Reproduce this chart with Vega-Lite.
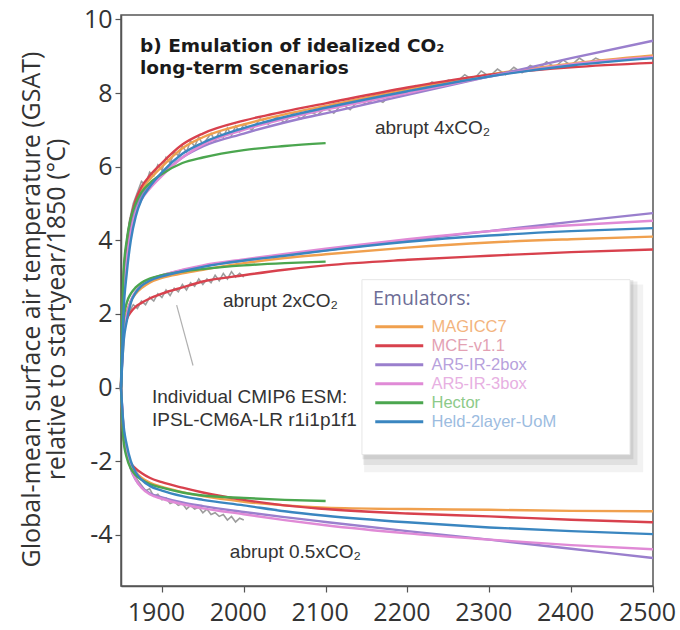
{
  "$schema": "https://vega.github.io/schema/vega-lite/v6.json",
  "width": 532,
  "height": 571,
  "autosize": {"type": "none"},
  "padding": {"left": 121, "top": 15, "right": 27, "bottom": 44},
  "background": "white",
  "config": {
    "view": {"stroke": "#555", "strokeWidth": 1.5},
    "axis": {"grid": false, "labelFont": "Open Sans", "labelFontSize": 25, "labelColor": "#333", "tickColor": "#555", "domainColor": "#555", "domainWidth": 1.5, "tickSize": 6, "tickWidth": 1.2, "labelOverlap": false, "labelFlush": false}
  },
  "datasets": {
    "emu": [
      {"e":"MAGICC7","s":"4x","t":1850,"v":0},{"e":"MAGICC7","s":"4x","t":1853,"v":2.7},{"e":"MAGICC7","s":"4x","t":1857,"v":3.7},{"e":"MAGICC7","s":"4x","t":1862,"v":4.45},{"e":"MAGICC7","s":"4x","t":1868,"v":4.95},{"e":"MAGICC7","s":"4x","t":1875,"v":5.35},{"e":"MAGICC7","s":"4x","t":1885,"v":5.65},{"e":"MAGICC7","s":"4x","t":1900,"v":6.0},{"e":"MAGICC7","s":"4x","t":1925,"v":6.5},{"e":"MAGICC7","s":"4x","t":1950,"v":6.8},{"e":"MAGICC7","s":"4x","t":2000,"v":7.15},{"e":"MAGICC7","s":"4x","t":2050,"v":7.42},{"e":"MAGICC7","s":"4x","t":2100,"v":7.65},{"e":"MAGICC7","s":"4x","t":2200,"v":8.1},{"e":"MAGICC7","s":"4x","t":2300,"v":8.5},{"e":"MAGICC7","s":"4x","t":2400,"v":8.8},{"e":"MAGICC7","s":"4x","t":2500,"v":9.02},
      {"e":"MAGICC7","s":"2x","t":1850,"v":0},{"e":"MAGICC7","s":"2x","t":1853,"v":1.6},{"e":"MAGICC7","s":"2x","t":1857,"v":2.05},{"e":"MAGICC7","s":"2x","t":1862,"v":2.35},{"e":"MAGICC7","s":"2x","t":1868,"v":2.55},{"e":"MAGICC7","s":"2x","t":1875,"v":2.7},{"e":"MAGICC7","s":"2x","t":1885,"v":2.85},{"e":"MAGICC7","s":"2x","t":1900,"v":2.98},{"e":"MAGICC7","s":"2x","t":1925,"v":3.1},{"e":"MAGICC7","s":"2x","t":1950,"v":3.2},{"e":"MAGICC7","s":"2x","t":2000,"v":3.38},{"e":"MAGICC7","s":"2x","t":2050,"v":3.52},{"e":"MAGICC7","s":"2x","t":2100,"v":3.62},{"e":"MAGICC7","s":"2x","t":2200,"v":3.8},{"e":"MAGICC7","s":"2x","t":2300,"v":3.94},{"e":"MAGICC7","s":"2x","t":2400,"v":4.03},{"e":"MAGICC7","s":"2x","t":2500,"v":4.1},
      {"e":"MAGICC7","s":"05x","t":1850,"v":0},{"e":"MAGICC7","s":"05x","t":1853,"v":-1.3},{"e":"MAGICC7","s":"05x","t":1857,"v":-1.8},{"e":"MAGICC7","s":"05x","t":1862,"v":-2.1},{"e":"MAGICC7","s":"05x","t":1868,"v":-2.3},{"e":"MAGICC7","s":"05x","t":1875,"v":-2.45},{"e":"MAGICC7","s":"05x","t":1885,"v":-2.58},{"e":"MAGICC7","s":"05x","t":1900,"v":-2.7},{"e":"MAGICC7","s":"05x","t":1925,"v":-2.84},{"e":"MAGICC7","s":"05x","t":1950,"v":-2.95},{"e":"MAGICC7","s":"05x","t":2000,"v":-3.1},{"e":"MAGICC7","s":"05x","t":2050,"v":-3.2},{"e":"MAGICC7","s":"05x","t":2100,"v":-3.26},{"e":"MAGICC7","s":"05x","t":2200,"v":-3.3},{"e":"MAGICC7","s":"05x","t":2300,"v":-3.32},{"e":"MAGICC7","s":"05x","t":2400,"v":-3.35},{"e":"MAGICC7","s":"05x","t":2500,"v":-3.36},

      {"e":"MCE-v1.1","s":"4x","t":1850,"v":0},{"e":"MCE-v1.1","s":"4x","t":1853,"v":2.9},{"e":"MCE-v1.1","s":"4x","t":1857,"v":3.9},{"e":"MCE-v1.1","s":"4x","t":1862,"v":4.6},{"e":"MCE-v1.1","s":"4x","t":1868,"v":5.1},{"e":"MCE-v1.1","s":"4x","t":1875,"v":5.45},{"e":"MCE-v1.1","s":"4x","t":1885,"v":5.75},{"e":"MCE-v1.1","s":"4x","t":1900,"v":6.1},{"e":"MCE-v1.1","s":"4x","t":1925,"v":6.6},{"e":"MCE-v1.1","s":"4x","t":1950,"v":6.9},{"e":"MCE-v1.1","s":"4x","t":2000,"v":7.25},{"e":"MCE-v1.1","s":"4x","t":2050,"v":7.5},{"e":"MCE-v1.1","s":"4x","t":2100,"v":7.72},{"e":"MCE-v1.1","s":"4x","t":2200,"v":8.15},{"e":"MCE-v1.1","s":"4x","t":2300,"v":8.5},{"e":"MCE-v1.1","s":"4x","t":2400,"v":8.7},{"e":"MCE-v1.1","s":"4x","t":2500,"v":8.82},
      {"e":"MCE-v1.1","s":"2x","t":1850,"v":0},{"e":"MCE-v1.1","s":"2x","t":1853,"v":1.5},{"e":"MCE-v1.1","s":"2x","t":1857,"v":1.85},{"e":"MCE-v1.1","s":"2x","t":1862,"v":2.05},{"e":"MCE-v1.1","s":"2x","t":1868,"v":2.2},{"e":"MCE-v1.1","s":"2x","t":1875,"v":2.3},{"e":"MCE-v1.1","s":"2x","t":1885,"v":2.42},{"e":"MCE-v1.1","s":"2x","t":1900,"v":2.55},{"e":"MCE-v1.1","s":"2x","t":1925,"v":2.72},{"e":"MCE-v1.1","s":"2x","t":1950,"v":2.88},{"e":"MCE-v1.1","s":"2x","t":2000,"v":3.05},{"e":"MCE-v1.1","s":"2x","t":2050,"v":3.2},{"e":"MCE-v1.1","s":"2x","t":2100,"v":3.32},{"e":"MCE-v1.1","s":"2x","t":2200,"v":3.47},{"e":"MCE-v1.1","s":"2x","t":2300,"v":3.58},{"e":"MCE-v1.1","s":"2x","t":2400,"v":3.68},{"e":"MCE-v1.1","s":"2x","t":2500,"v":3.75},
      {"e":"MCE-v1.1","s":"05x","t":1850,"v":0},{"e":"MCE-v1.1","s":"05x","t":1853,"v":-1.3},{"e":"MCE-v1.1","s":"05x","t":1857,"v":-1.8},{"e":"MCE-v1.1","s":"05x","t":1862,"v":-2.05},{"e":"MCE-v1.1","s":"05x","t":1868,"v":-2.2},{"e":"MCE-v1.1","s":"05x","t":1875,"v":-2.32},{"e":"MCE-v1.1","s":"05x","t":1885,"v":-2.45},{"e":"MCE-v1.1","s":"05x","t":1900,"v":-2.57},{"e":"MCE-v1.1","s":"05x","t":1925,"v":-2.72},{"e":"MCE-v1.1","s":"05x","t":1950,"v":-2.85},{"e":"MCE-v1.1","s":"05x","t":2000,"v":-3.05},{"e":"MCE-v1.1","s":"05x","t":2050,"v":-3.2},{"e":"MCE-v1.1","s":"05x","t":2100,"v":-3.3},{"e":"MCE-v1.1","s":"05x","t":2200,"v":-3.42},{"e":"MCE-v1.1","s":"05x","t":2300,"v":-3.5},{"e":"MCE-v1.1","s":"05x","t":2400,"v":-3.59},{"e":"MCE-v1.1","s":"05x","t":2500,"v":-3.66},

      {"e":"AR5-IR-2box","s":"4x","t":1850,"v":0},{"e":"AR5-IR-2box","s":"4x","t":1853,"v":2.4},{"e":"AR5-IR-2box","s":"4x","t":1857,"v":3.5},{"e":"AR5-IR-2box","s":"4x","t":1862,"v":4.3},{"e":"AR5-IR-2box","s":"4x","t":1868,"v":4.85},{"e":"AR5-IR-2box","s":"4x","t":1875,"v":5.2},{"e":"AR5-IR-2box","s":"4x","t":1885,"v":5.5},{"e":"AR5-IR-2box","s":"4x","t":1900,"v":5.8},{"e":"AR5-IR-2box","s":"4x","t":1925,"v":6.25},{"e":"AR5-IR-2box","s":"4x","t":1950,"v":6.55},{"e":"AR5-IR-2box","s":"4x","t":2000,"v":6.9},{"e":"AR5-IR-2box","s":"4x","t":2050,"v":7.2},{"e":"AR5-IR-2box","s":"4x","t":2100,"v":7.45},{"e":"AR5-IR-2box","s":"4x","t":2200,"v":7.95},{"e":"AR5-IR-2box","s":"4x","t":2300,"v":8.45},{"e":"AR5-IR-2box","s":"4x","t":2400,"v":8.95},{"e":"AR5-IR-2box","s":"4x","t":2500,"v":9.42},
      {"e":"AR5-IR-2box","s":"2x","t":1850,"v":0},{"e":"AR5-IR-2box","s":"2x","t":1853,"v":1.4},{"e":"AR5-IR-2box","s":"2x","t":1857,"v":1.95},{"e":"AR5-IR-2box","s":"2x","t":1862,"v":2.35},{"e":"AR5-IR-2box","s":"2x","t":1868,"v":2.6},{"e":"AR5-IR-2box","s":"2x","t":1875,"v":2.78},{"e":"AR5-IR-2box","s":"2x","t":1885,"v":2.93},{"e":"AR5-IR-2box","s":"2x","t":1900,"v":3.05},{"e":"AR5-IR-2box","s":"2x","t":1925,"v":3.18},{"e":"AR5-IR-2box","s":"2x","t":1950,"v":3.3},{"e":"AR5-IR-2box","s":"2x","t":2000,"v":3.45},{"e":"AR5-IR-2box","s":"2x","t":2050,"v":3.6},{"e":"AR5-IR-2box","s":"2x","t":2100,"v":3.73},{"e":"AR5-IR-2box","s":"2x","t":2200,"v":4.0},{"e":"AR5-IR-2box","s":"2x","t":2300,"v":4.25},{"e":"AR5-IR-2box","s":"2x","t":2400,"v":4.5},{"e":"AR5-IR-2box","s":"2x","t":2500,"v":4.74},
      {"e":"AR5-IR-2box","s":"05x","t":1850,"v":0},{"e":"AR5-IR-2box","s":"05x","t":1853,"v":-1.1},{"e":"AR5-IR-2box","s":"05x","t":1857,"v":-1.7},{"e":"AR5-IR-2box","s":"05x","t":1862,"v":-2.2},{"e":"AR5-IR-2box","s":"05x","t":1868,"v":-2.5},{"e":"AR5-IR-2box","s":"05x","t":1875,"v":-2.7},{"e":"AR5-IR-2box","s":"05x","t":1885,"v":-2.87},{"e":"AR5-IR-2box","s":"05x","t":1900,"v":-2.98},{"e":"AR5-IR-2box","s":"05x","t":1925,"v":-3.12},{"e":"AR5-IR-2box","s":"05x","t":1950,"v":-3.22},{"e":"AR5-IR-2box","s":"05x","t":2000,"v":-3.38},{"e":"AR5-IR-2box","s":"05x","t":2050,"v":-3.52},{"e":"AR5-IR-2box","s":"05x","t":2100,"v":-3.65},{"e":"AR5-IR-2box","s":"05x","t":2200,"v":-3.9},{"e":"AR5-IR-2box","s":"05x","t":2300,"v":-4.13},{"e":"AR5-IR-2box","s":"05x","t":2400,"v":-4.38},{"e":"AR5-IR-2box","s":"05x","t":2500,"v":-4.63},

      {"e":"AR5-IR-3box","s":"4x","t":1850,"v":0},{"e":"AR5-IR-3box","s":"4x","t":1853,"v":2.3},{"e":"AR5-IR-3box","s":"4x","t":1857,"v":3.4},{"e":"AR5-IR-3box","s":"4x","t":1862,"v":4.2},{"e":"AR5-IR-3box","s":"4x","t":1868,"v":4.75},{"e":"AR5-IR-3box","s":"4x","t":1875,"v":5.1},{"e":"AR5-IR-3box","s":"4x","t":1885,"v":5.4},{"e":"AR5-IR-3box","s":"4x","t":1900,"v":5.75},{"e":"AR5-IR-3box","s":"4x","t":1925,"v":6.25},{"e":"AR5-IR-3box","s":"4x","t":1950,"v":6.6},{"e":"AR5-IR-3box","s":"4x","t":2000,"v":7.0},{"e":"AR5-IR-3box","s":"4x","t":2050,"v":7.3},{"e":"AR5-IR-3box","s":"4x","t":2100,"v":7.55},{"e":"AR5-IR-3box","s":"4x","t":2200,"v":8.0},{"e":"AR5-IR-3box","s":"4x","t":2300,"v":8.45},{"e":"AR5-IR-3box","s":"4x","t":2400,"v":8.78},{"e":"AR5-IR-3box","s":"4x","t":2500,"v":8.98},
      {"e":"AR5-IR-3box","s":"2x","t":1850,"v":0},{"e":"AR5-IR-3box","s":"2x","t":1853,"v":1.4},{"e":"AR5-IR-3box","s":"2x","t":1857,"v":1.95},{"e":"AR5-IR-3box","s":"2x","t":1862,"v":2.35},{"e":"AR5-IR-3box","s":"2x","t":1868,"v":2.6},{"e":"AR5-IR-3box","s":"2x","t":1875,"v":2.78},{"e":"AR5-IR-3box","s":"2x","t":1885,"v":2.93},{"e":"AR5-IR-3box","s":"2x","t":1900,"v":3.05},{"e":"AR5-IR-3box","s":"2x","t":1925,"v":3.2},{"e":"AR5-IR-3box","s":"2x","t":1950,"v":3.32},{"e":"AR5-IR-3box","s":"2x","t":2000,"v":3.48},{"e":"AR5-IR-3box","s":"2x","t":2050,"v":3.63},{"e":"AR5-IR-3box","s":"2x","t":2100,"v":3.77},{"e":"AR5-IR-3box","s":"2x","t":2200,"v":4.03},{"e":"AR5-IR-3box","s":"2x","t":2300,"v":4.25},{"e":"AR5-IR-3box","s":"2x","t":2400,"v":4.41},{"e":"AR5-IR-3box","s":"2x","t":2500,"v":4.53},
      {"e":"AR5-IR-3box","s":"05x","t":1850,"v":0},{"e":"AR5-IR-3box","s":"05x","t":1853,"v":-1.1},{"e":"AR5-IR-3box","s":"05x","t":1857,"v":-1.7},{"e":"AR5-IR-3box","s":"05x","t":1862,"v":-2.2},{"e":"AR5-IR-3box","s":"05x","t":1868,"v":-2.5},{"e":"AR5-IR-3box","s":"05x","t":1875,"v":-2.72},{"e":"AR5-IR-3box","s":"05x","t":1885,"v":-2.9},{"e":"AR5-IR-3box","s":"05x","t":1900,"v":-3.02},{"e":"AR5-IR-3box","s":"05x","t":1925,"v":-3.17},{"e":"AR5-IR-3box","s":"05x","t":1950,"v":-3.28},{"e":"AR5-IR-3box","s":"05x","t":2000,"v":-3.44},{"e":"AR5-IR-3box","s":"05x","t":2050,"v":-3.6},{"e":"AR5-IR-3box","s":"05x","t":2100,"v":-3.74},{"e":"AR5-IR-3box","s":"05x","t":2200,"v":-3.96},{"e":"AR5-IR-3box","s":"05x","t":2300,"v":-4.13},{"e":"AR5-IR-3box","s":"05x","t":2400,"v":-4.28},{"e":"AR5-IR-3box","s":"05x","t":2500,"v":-4.39},

      {"e":"Hector","s":"4x","t":1850,"v":0},{"e":"Hector","s":"4x","t":1853,"v":3.1},{"e":"Hector","s":"4x","t":1857,"v":4.0},{"e":"Hector","s":"4x","t":1862,"v":4.6},{"e":"Hector","s":"4x","t":1868,"v":5.0},{"e":"Hector","s":"4x","t":1875,"v":5.3},{"e":"Hector","s":"4x","t":1885,"v":5.55},{"e":"Hector","s":"4x","t":1900,"v":5.8},{"e":"Hector","s":"4x","t":1925,"v":6.1},{"e":"Hector","s":"4x","t":1950,"v":6.25},{"e":"Hector","s":"4x","t":2000,"v":6.45},{"e":"Hector","s":"4x","t":2050,"v":6.56},{"e":"Hector","s":"4x","t":2100,"v":6.64},
      {"e":"Hector","s":"2x","t":1850,"v":0},{"e":"Hector","s":"2x","t":1853,"v":1.8},{"e":"Hector","s":"2x","t":1857,"v":2.3},{"e":"Hector","s":"2x","t":1862,"v":2.55},{"e":"Hector","s":"2x","t":1868,"v":2.72},{"e":"Hector","s":"2x","t":1875,"v":2.85},{"e":"Hector","s":"2x","t":1885,"v":2.96},{"e":"Hector","s":"2x","t":1900,"v":3.05},{"e":"Hector","s":"2x","t":1925,"v":3.15},{"e":"Hector","s":"2x","t":1950,"v":3.22},{"e":"Hector","s":"2x","t":2000,"v":3.32},{"e":"Hector","s":"2x","t":2050,"v":3.38},{"e":"Hector","s":"2x","t":2100,"v":3.42},
      {"e":"Hector","s":"05x","t":1850,"v":0},{"e":"Hector","s":"05x","t":1853,"v":-1.4},{"e":"Hector","s":"05x","t":1857,"v":-1.9},{"e":"Hector","s":"05x","t":1862,"v":-2.2},{"e":"Hector","s":"05x","t":1868,"v":-2.38},{"e":"Hector","s":"05x","t":1875,"v":-2.5},{"e":"Hector","s":"05x","t":1885,"v":-2.62},{"e":"Hector","s":"05x","t":1900,"v":-2.72},{"e":"Hector","s":"05x","t":1925,"v":-2.85},{"e":"Hector","s":"05x","t":1950,"v":-2.93},{"e":"Hector","s":"05x","t":2000,"v":-3.0},{"e":"Hector","s":"05x","t":2050,"v":-3.05},{"e":"Hector","s":"05x","t":2100,"v":-3.08},

      {"e":"Held-2layer-UoM","s":"4x","t":1850,"v":0},{"e":"Held-2layer-UoM","s":"4x","t":1853,"v":2.0},{"e":"Held-2layer-UoM","s":"4x","t":1857,"v":3.1},{"e":"Held-2layer-UoM","s":"4x","t":1862,"v":4.0},{"e":"Held-2layer-UoM","s":"4x","t":1868,"v":4.65},{"e":"Held-2layer-UoM","s":"4x","t":1875,"v":5.1},{"e":"Held-2layer-UoM","s":"4x","t":1885,"v":5.45},{"e":"Held-2layer-UoM","s":"4x","t":1900,"v":5.85},{"e":"Held-2layer-UoM","s":"4x","t":1925,"v":6.35},{"e":"Held-2layer-UoM","s":"4x","t":1950,"v":6.65},{"e":"Held-2layer-UoM","s":"4x","t":2000,"v":7.05},{"e":"Held-2layer-UoM","s":"4x","t":2050,"v":7.35},{"e":"Held-2layer-UoM","s":"4x","t":2100,"v":7.6},{"e":"Held-2layer-UoM","s":"4x","t":2200,"v":8.05},{"e":"Held-2layer-UoM","s":"4x","t":2300,"v":8.45},{"e":"Held-2layer-UoM","s":"4x","t":2400,"v":8.75},{"e":"Held-2layer-UoM","s":"4x","t":2500,"v":8.95},
      {"e":"Held-2layer-UoM","s":"2x","t":1850,"v":0},{"e":"Held-2layer-UoM","s":"2x","t":1853,"v":1.2},{"e":"Held-2layer-UoM","s":"2x","t":1857,"v":1.8},{"e":"Held-2layer-UoM","s":"2x","t":1862,"v":2.3},{"e":"Held-2layer-UoM","s":"2x","t":1868,"v":2.58},{"e":"Held-2layer-UoM","s":"2x","t":1875,"v":2.76},{"e":"Held-2layer-UoM","s":"2x","t":1885,"v":2.9},{"e":"Held-2layer-UoM","s":"2x","t":1900,"v":3.02},{"e":"Held-2layer-UoM","s":"2x","t":1925,"v":3.16},{"e":"Held-2layer-UoM","s":"2x","t":1950,"v":3.28},{"e":"Held-2layer-UoM","s":"2x","t":2000,"v":3.45},{"e":"Held-2layer-UoM","s":"2x","t":2050,"v":3.58},{"e":"Held-2layer-UoM","s":"2x","t":2100,"v":3.72},{"e":"Held-2layer-UoM","s":"2x","t":2200,"v":3.96},{"e":"Held-2layer-UoM","s":"2x","t":2300,"v":4.13},{"e":"Held-2layer-UoM","s":"2x","t":2400,"v":4.25},{"e":"Held-2layer-UoM","s":"2x","t":2500,"v":4.33},
      {"e":"Held-2layer-UoM","s":"05x","t":1850,"v":0},{"e":"Held-2layer-UoM","s":"05x","t":1853,"v":-1.0},{"e":"Held-2layer-UoM","s":"05x","t":1857,"v":-1.55},{"e":"Held-2layer-UoM","s":"05x","t":1862,"v":-2.0},{"e":"Held-2layer-UoM","s":"05x","t":1868,"v":-2.3},{"e":"Held-2layer-UoM","s":"05x","t":1875,"v":-2.5},{"e":"Held-2layer-UoM","s":"05x","t":1885,"v":-2.67},{"e":"Held-2layer-UoM","s":"05x","t":1900,"v":-2.8},{"e":"Held-2layer-UoM","s":"05x","t":1925,"v":-2.95},{"e":"Held-2layer-UoM","s":"05x","t":1950,"v":-3.05},{"e":"Held-2layer-UoM","s":"05x","t":2000,"v":-3.2},{"e":"Held-2layer-UoM","s":"05x","t":2050,"v":-3.36},{"e":"Held-2layer-UoM","s":"05x","t":2100,"v":-3.48},{"e":"Held-2layer-UoM","s":"05x","t":2200,"v":-3.66},{"e":"Held-2layer-UoM","s":"05x","t":2300,"v":-3.8},{"e":"Held-2layer-UoM","s":"05x","t":2400,"v":-3.9},{"e":"Held-2layer-UoM","s":"05x","t":2500,"v":-3.98}
    ],
    "esm": [
      {"s":"4x","t":1850,"v":0},{"s":"4x","t":1855,"v":3.6},{"s":"4x","t":1860,"v":4.5},{"s":"4x","t":1865,"v":5.0},{"s":"4x","t":1870,"v":5.3},{"s":"4x","t":1875,"v":5.6},{"s":"4x","t":1880,"v":5.5},{"s":"4x","t":1885,"v":5.85},{"s":"4x","t":1890,"v":5.75},{"s":"4x","t":1895,"v":6.05},{"s":"4x","t":1900,"v":5.9},{"s":"4x","t":1905,"v":6.25},{"s":"4x","t":1910,"v":6.1},{"s":"4x","t":1915,"v":6.4},{"s":"4x","t":1920,"v":6.3},{"s":"4x","t":1925,"v":6.55},{"s":"4x","t":1930,"v":6.4},{"s":"4x","t":1935,"v":6.7},{"s":"4x","t":1940,"v":6.55},{"s":"4x","t":1945,"v":6.8},{"s":"4x","t":1950,"v":6.6},{"s":"4x","t":1955,"v":6.75},{"s":"4x","t":1960,"v":6.9},{"s":"4x","t":1965,"v":6.7},{"s":"4x","t":1970,"v":6.95},{"s":"4x","t":1975,"v":6.8},{"s":"4x","t":1980,"v":7.05},{"s":"4x","t":1985,"v":6.85},{"s":"4x","t":1990,"v":7.1},{"s":"4x","t":1995,"v":6.95},{"s":"4x","t":2000,"v":7.15},{"s":"4x","t":2010,"v":7.0},{"s":"4x","t":2020,"v":7.3},{"s":"4x","t":2030,"v":7.15},{"s":"4x","t":2040,"v":7.35},{"s":"4x","t":2050,"v":7.2},{"s":"4x","t":2060,"v":7.45},{"s":"4x","t":2070,"v":7.3},{"s":"4x","t":2080,"v":7.5},{"s":"4x","t":2090,"v":7.4},{"s":"4x","t":2100,"v":7.6},{"s":"4x","t":2110,"v":7.45},{"s":"4x","t":2120,"v":7.7},{"s":"4x","t":2130,"v":7.55},{"s":"4x","t":2140,"v":7.8},{"s":"4x","t":2150,"v":7.7},{"s":"4x","t":2160,"v":7.85},{"s":"4x","t":2170,"v":7.75},{"s":"4x","t":2180,"v":7.95},{"s":"4x","t":2190,"v":7.9},{"s":"4x","t":2200,"v":8.05},{"s":"4x","t":2210,"v":8.2},{"s":"4x","t":2220,"v":8.1},{"s":"4x","t":2230,"v":8.3},{"s":"4x","t":2240,"v":8.2},{"s":"4x","t":2250,"v":8.35},{"s":"4x","t":2260,"v":8.3},{"s":"4x","t":2270,"v":8.5},{"s":"4x","t":2280,"v":8.35},{"s":"4x","t":2290,"v":8.6},{"s":"4x","t":2300,"v":8.45},{"s":"4x","t":2310,"v":8.65},{"s":"4x","t":2320,"v":8.5},{"s":"4x","t":2330,"v":8.7},{"s":"4x","t":2340,"v":8.55},{"s":"4x","t":2350,"v":8.75},{"s":"4x","t":2360,"v":8.65},{"s":"4x","t":2370,"v":8.85},{"s":"4x","t":2380,"v":8.7},{"s":"4x","t":2390,"v":8.9},{"s":"4x","t":2400,"v":8.75},{"s":"4x","t":2410,"v":8.95},{"s":"4x","t":2420,"v":8.8},{"s":"4x","t":2430,"v":8.95},{"s":"4x","t":2440,"v":8.85},{"s":"4x","t":2450,"v":8.9},
      {"s":"2x","t":1850,"v":0},{"s":"2x","t":1855,"v":1.7},{"s":"2x","t":1860,"v":2.05},{"s":"2x","t":1865,"v":2.25},{"s":"2x","t":1870,"v":2.15},{"s":"2x","t":1875,"v":2.35},{"s":"2x","t":1880,"v":2.25},{"s":"2x","t":1885,"v":2.45},{"s":"2x","t":1890,"v":2.35},{"s":"2x","t":1895,"v":2.55},{"s":"2x","t":1900,"v":2.45},{"s":"2x","t":1905,"v":2.65},{"s":"2x","t":1910,"v":2.5},{"s":"2x","t":1915,"v":2.7},{"s":"2x","t":1920,"v":2.6},{"s":"2x","t":1925,"v":2.8},{"s":"2x","t":1930,"v":2.65},{"s":"2x","t":1935,"v":2.85},{"s":"2x","t":1940,"v":2.75},{"s":"2x","t":1945,"v":2.95},{"s":"2x","t":1950,"v":2.8},{"s":"2x","t":1955,"v":2.95},{"s":"2x","t":1960,"v":2.85},{"s":"2x","t":1965,"v":3.05},{"s":"2x","t":1970,"v":2.9},{"s":"2x","t":1975,"v":3.1},{"s":"2x","t":1980,"v":2.95},{"s":"2x","t":1985,"v":3.15},{"s":"2x","t":1990,"v":3.0},{"s":"2x","t":1995,"v":3.1},{"s":"2x","t":2000,"v":3.0},
      {"s":"05x","t":1850,"v":0},{"s":"05x","t":1855,"v":-1.5},{"s":"05x","t":1860,"v":-2.0},{"s":"05x","t":1865,"v":-2.3},{"s":"05x","t":1870,"v":-2.5},{"s":"05x","t":1875,"v":-2.65},{"s":"05x","t":1880,"v":-2.8},{"s":"05x","t":1885,"v":-2.75},{"s":"05x","t":1890,"v":-2.95},{"s":"05x","t":1895,"v":-2.9},{"s":"05x","t":1900,"v":-3.05},{"s":"05x","t":1905,"v":-3.0},{"s":"05x","t":1910,"v":-3.15},{"s":"05x","t":1915,"v":-3.1},{"s":"05x","t":1920,"v":-3.2},{"s":"05x","t":1925,"v":-3.15},{"s":"05x","t":1930,"v":-3.3},{"s":"05x","t":1935,"v":-3.2},{"s":"05x","t":1940,"v":-3.3},{"s":"05x","t":1945,"v":-3.25},{"s":"05x","t":1950,"v":-3.4},{"s":"05x","t":1955,"v":-3.3},{"s":"05x","t":1960,"v":-3.45},{"s":"05x","t":1965,"v":-3.4},{"s":"05x","t":1970,"v":-3.5},{"s":"05x","t":1975,"v":-3.45},{"s":"05x","t":1980,"v":-3.6},{"s":"05x","t":1985,"v":-3.5},{"s":"05x","t":1990,"v":-3.65},{"s":"05x","t":1995,"v":-3.55},{"s":"05x","t":2000,"v":-3.6}
    ],
    "titles": [
      {"label":"b) Emulation of idealized CO₂","t":1873.2,"v":9.28},
      {"label":"long-term scenarios","t":1873.2,"v":8.68}
    ],
    "notes": [
      {"label":"abrupt 4xCO₂","t":2160.3,"v":7.05},
      {"label":"abrupt 2xCO₂","t":1974.5,"v":2.35},
      {"label":"abrupt 0.5xCO₂","t":1983,"v":-4.47},
      {"label":"Individual CMIP6 ESM:","t":1887.9,"v":-0.26},
      {"label":"IPSL-CM6A-LR r1i1p1f1","t":1887.9,"v":-0.88}
    ]
  },
  "encoding": {
    "x": {"type": "quantitative", "scale": {"domain": [1850, 2500], "nice": false, "zero": false}},
    "y": {"type": "quantitative", "scale": {"domain": [-5.39, 10.12], "nice": false, "zero": false}}
  },
  "layer": [
    {
      "data": {"values": [{}]},
      "mark": {"type": "rect", "fill": "#000", "opacity": 0.05},
      "encoding": {
        "x": {"datum": 2147}, "x2": {"datum": 2488},
        "y": {"datum": 2.8}, "y2": {"datum": -2.3}
      }
    },
    {
      "data": {"values": [{}]},
      "mark": {"type": "rect", "fill": "#000", "opacity": 0.07},
      "encoding": {
        "x": {"datum": 2146}, "x2": {"datum": 2481},
        "y": {"datum": 2.88}, "y2": {"datum": -2.1}
      }
    },
    {
      "data": {"values": [{}]},
      "mark": {"type": "rect", "fill": "#000", "opacity": 0.08},
      "encoding": {
        "x": {"datum": 2145}, "x2": {"datum": 2476},
        "y": {"datum": 2.92}, "y2": {"datum": -1.95}
      }
    },
    {
      "data": {"values": [{}]},
      "mark": {"type": "rect", "fill": "white", "stroke": "#e6e6e6", "strokeWidth": 1},
      "encoding": {
        "x": {"datum": 2144.4}, "x2": {"datum": 2471.9},
        "y": {"datum": 2.93}, "y2": {"datum": -1.82}
      }
    },
    {
      "data": {"name": "esm"},
      "mark": {"type": "line", "stroke": "#9d9d9d", "strokeWidth": 1.6},
      "encoding": {
        "x": {"field": "t", "type": "quantitative", "axis": {"title": null, "values": [1900, 2000, 2100, 2200, 2300, 2400, 2500], "format": "d", "labelPadding": 8, "labelOffset": -6}},
        "y": {"field": "v", "type": "quantitative", "axis": {
          "title": ["Global-mean surface air temperature (GSAT)", "relative to startyear/1850 (°C)"],
          "titleFont": "Open Sans", "titleFontSize": 25, "titleFontWeight": "normal", "titleColor": "#333", "titleLineHeight": 25,
          "titleY": 294, "titlePadding": 14,
          "values": [-4, -2, 0, 2, 4, 6, 8, 10], "labelExpr": "'' + datum.value", "labelPadding": 3}},
        "detail": {"field": "s"}
      }
    },
    {
      "data": {"name": "emu"},
      "mark": {"type": "line", "strokeWidth": 2.4, "interpolate": "monotone"},
      "encoding": {
        "x": {"field": "t", "type": "quantitative"},
        "y": {"field": "v", "type": "quantitative"},
        "detail": {"field": "s"},
        "color": {
          "field": "e", "type": "nominal",
          "scale": {
            "domain": ["MAGICC7", "MCE-v1.1", "AR5-IR-2box", "AR5-IR-3box", "Hector", "Held-2layer-UoM"],
            "range": ["#f0a04e", "#d8414d", "#9a7fcd", "#e08ad6", "#4ba64f", "#3a86c0"]
          },
          "legend": {
            "orient": "none", "legendX": 252, "legendY": 275,
            "title": "Emulators:", "titleFont": "Open Sans", "titleFontSize": 19.5, "titleFontWeight": "normal", "titleColor": "#6d6d96", "titlePadding": 9,
            "labelFont": "Liberation Sans", "labelFontSize": 16.5, "labelOffset": 42,
            "symbolType": "M-1,0H7", "symbolSize": 144, "symbolStrokeWidth": 3,
            "rowPadding": 2, "padding": 0,
            "encode": {"labels": {"update": {"fill": {"signal": "datum.value === 'MAGICC7' ? '#f3b47e' : datum.value === 'MCE-v1.1' ? '#e3a1b3' : datum.value === 'AR5-IR-2box' ? '#b7a1dc' : datum.value === 'AR5-IR-3box' ? '#e7b0e2' : datum.value === 'Hector' ? '#8dca89' : '#9cbcdf'"}}}}
          }
        }
      }
    },
    {
      "data": {"values": [{}]},
      "mark": {"type": "rule", "stroke": "#b0b0b0", "strokeWidth": 1.2},
      "encoding": {
        "x": {"datum": 1918}, "x2": {"datum": 1938},
        "y": {"datum": 2.24}, "y2": {"datum": 0.6}
      }
    },
    {
      "data": {"name": "titles"},
      "mark": {"type": "text", "align": "left", "baseline": "middle", "font": "DejaVu Sans", "fontWeight": "bold", "fontSize": 18.5, "color": "#1a1a1a"},
      "encoding": {
        "x": {"field": "t", "type": "quantitative"},
        "y": {"field": "v", "type": "quantitative"},
        "text": {"field": "label"}
      }
    },
    {
      "data": {"name": "notes"},
      "mark": {"type": "text", "align": "left", "baseline": "middle", "font": "Liberation Sans", "fontSize": 19, "color": "#333"},
      "encoding": {
        "x": {"field": "t", "type": "quantitative"},
        "y": {"field": "v", "type": "quantitative"},
        "text": {"field": "label"}
      }
    }
  ]
}
